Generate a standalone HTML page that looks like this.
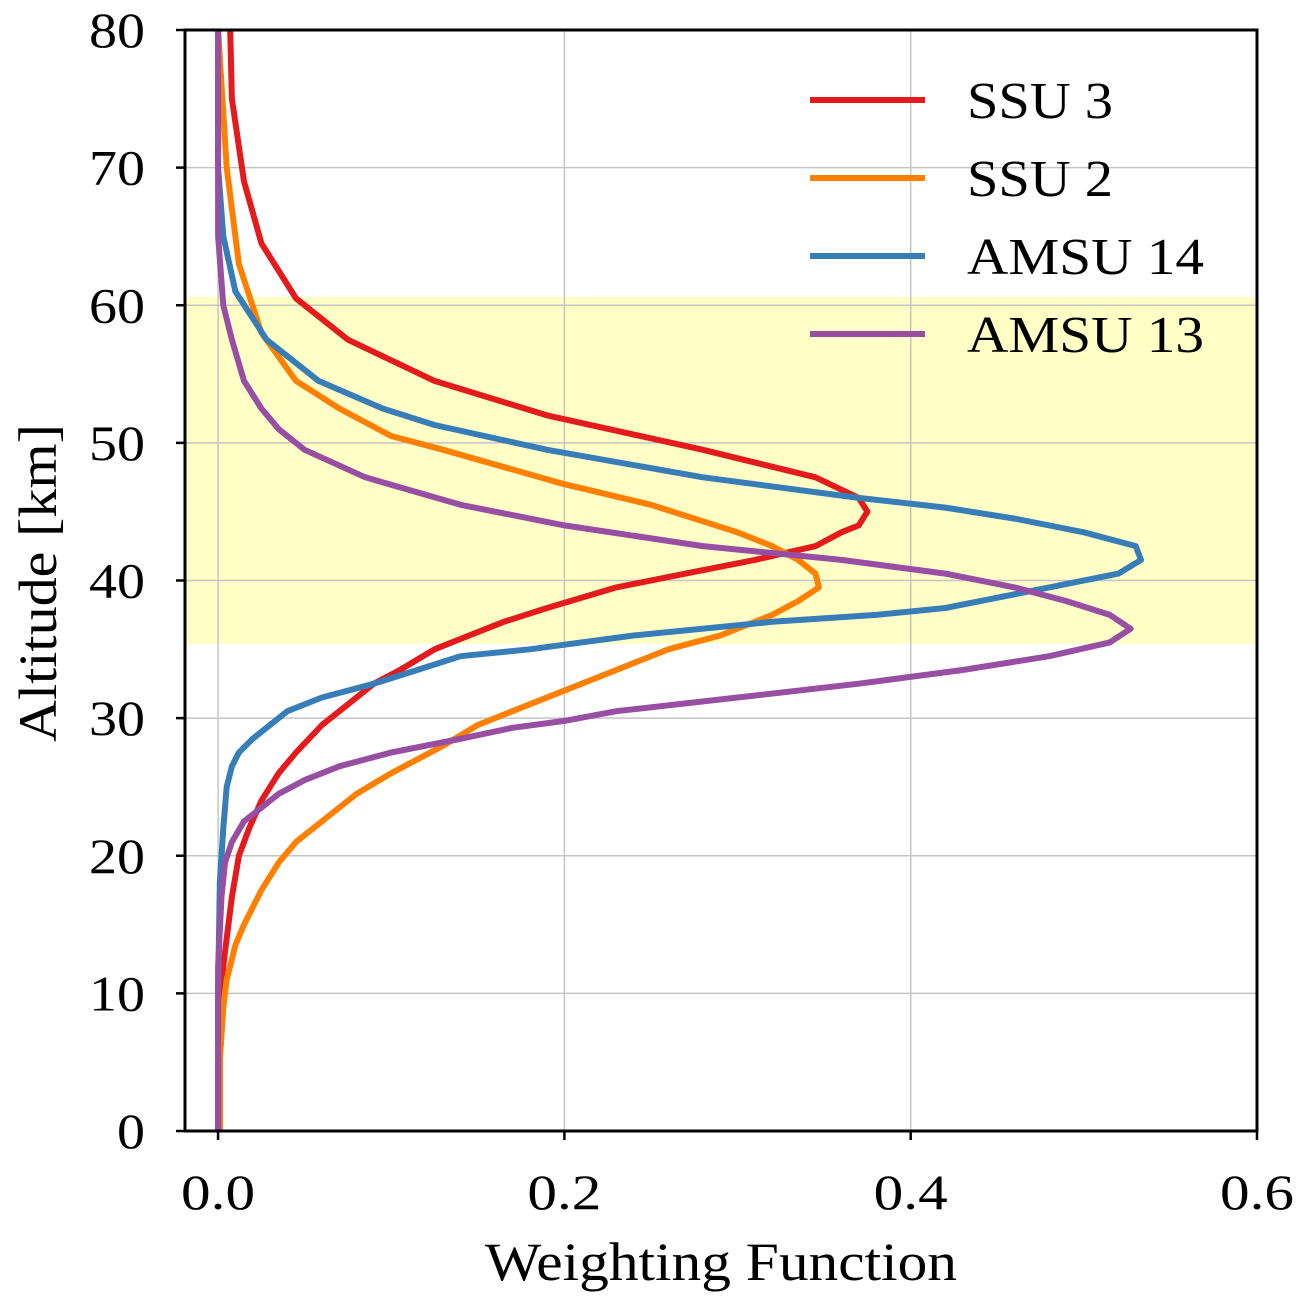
<!DOCTYPE html>
<html><head><meta charset="utf-8"><style>
body{margin:0;background:#fff}
svg text{font-family:"Liberation Serif","DejaVu Serif",serif;fill:#000}
</style></head><body>
<svg id="chart" width="1299" height="1302" viewBox="0 0 1299 1302" xmlns="http://www.w3.org/2000/svg">
<g id="bg"></g><g id="grid"></g><g id="series"></g><g id="axes"></g><g id="legend"></g>
</svg>
<script>
const xTicks=[0.0,0.2,0.4,0.6];
const xTickLabels=["0.0","0.2","0.4","0.6"];
const yTicks=[0,10,20,30,40,50,60,70,80];
const bandRange=[35.4,60.6];
const seriesNames=["SSU 3","SSU 2","AMSU 14","AMSU 13"];
const seriesColors=["#e41a1c","#ff7f00","#377eb8","#984ea3"];
const ssu3X=[0.007,0.008,0.015,0.025,0.045,0.075,0.125,0.19,0.28,0.345,0.37,0.375,0.37,0.36,0.345,0.31,0.27,0.23,0.19,0.165,0.145,0.125,0.105,0.09,0.075,0.06,0.045,0.035,0.025,0.018,0.012,0.008,0.005,0.003,0.001,0.001];
const ssu3Alt=[80,75,69,64.5,60.5,57.5,54.5,52,49.5,47.5,46,45,44,43.5,42.5,41.5,40.5,39.5,38,37,36,35,33.5,32.5,31,29.5,27.5,26,24,22,20,17,14,12,8,0];
const ssu2X=[0.0,0.005,0.012,0.025,0.045,0.07,0.1,0.13,0.2,0.25,0.3,0.32,0.335,0.345,0.347,0.335,0.32,0.29,0.26,0.23,0.2,0.17,0.15,0.13,0.1,0.08,0.06,0.045,0.035,0.025,0.015,0.01,0.005,0.003,0.001,0.001];
const ssu2Alt=[80,70,63,58,54.5,52.5,50.5,49.5,47,45.5,43.5,42.5,41.5,40.5,39.5,38.5,37.5,36,35,33.5,32,30.5,29.5,28,26,24.5,22.5,21,19.5,17.5,15,13.5,11,9,5,0];
const amsu14X=[0,0,0.003,0.01,0.028,0.058,0.095,0.125,0.19,0.28,0.37,0.42,0.46,0.5,0.53,0.533,0.52,0.48,0.42,0.38,0.32,0.24,0.18,0.14,0.115,0.09,0.06,0.04,0.03,0.02,0.012,0.008,0.005,0.003,0.001,0,0];
const amsu14Alt=[80,70,65,61,57.5,54.5,52.5,51.3,49.5,47.5,46,45.3,44.5,43.5,42.5,41.5,40.5,39.5,38,37.5,37,36,35,34.5,33.5,32.5,31.5,30.5,29.5,28.5,27.5,26.5,25,22,18,10,0];
const amsu13X=[0,0,0.003,0.008,0.015,0.025,0.035,0.05,0.085,0.14,0.2,0.28,0.36,0.42,0.46,0.49,0.515,0.527,0.515,0.48,0.43,0.37,0.3,0.23,0.2,0.17,0.14,0.1,0.07,0.05,0.035,0.025,0.015,0.008,0.004,0.002,0,0];
const amsu13Alt=[80,65,60,57.5,54.5,52.5,51,49.5,47.5,45.5,44,42.5,41.5,40.5,39.5,38.5,37.5,36.5,35.5,34.5,33.5,32.5,31.5,30.5,29.8,29.3,28.5,27.5,26.5,25.5,24.5,23.5,22.5,21,19.5,17,12,0];
const allX=[ssu3X,ssu2X,amsu14X,amsu13X];
const allAlt=[ssu3Alt,ssu2Alt,amsu14Alt,amsu13Alt];

const L=185,R=1257,T=30,B=1131,X0=-0.0191,X1=0.6;
const sx=v=>L+(v-X0)/(X1-X0)*(R-L);
const sy=v=>B-(v/80)*(B-T);
const NS="http://www.w3.org/2000/svg";
function mk(tag,attrs,parent,txt){const e=document.createElementNS(NS,tag);for(const k in attrs)e.setAttribute(k,attrs[k]);if(txt!==undefined)e.textContent=txt;document.getElementById(parent).appendChild(e);return e;}

let e=mk('rect',{x:L,y:sy(bandRange[1]),width:R-L,height:sy(bandRange[0])-sy(bandRange[1]),fill:'#ffffc6'},'bg');



xTicks.forEach((t,i)=>{
 let g=mk('line',{x1:sx(t),x2:sx(t),y1:T,y2:B,stroke:'#c4c4c4','stroke-width':1.5},'grid');
 
 
 let tk=mk('line',{x1:sx(t),x2:sx(t),y1:B,y2:B+9,stroke:'#000','stroke-width':2.5},'axes');
 
 
 let tl=mk('text',{x:sx(t),y:1209,'text-anchor':'middle','font-size':50,textLength:74,lengthAdjust:'spacingAndGlyphs'},'axes',xTickLabels[i]);
 
 
});
yTicks.forEach(t=>{
 let g=mk('line',{x1:L,x2:R,y1:sy(t),y2:sy(t),stroke:'#c4c4c4','stroke-width':1.5},'grid');
 
 
 let tk=mk('line',{x1:L-9,x2:L,y1:sy(t),y2:sy(t),stroke:'#000','stroke-width':2.5},'axes');
 
 
 const s=String(t);
 let tl=mk('text',{x:145,y:sy(t)+17,'text-anchor':'end','font-size':50,textLength:s.length*28,lengthAdjust:'spacingAndGlyphs'},'axes',s);
 
 
});

allX.forEach((xs,i)=>{
 const d=xs.map((v,j)=>(j?'L':'M')+sx(v).toFixed(1)+','+sy(allAlt[i][j]).toFixed(1)).join(' ');
 let p=mk('path',{d:d,fill:'none',stroke:seriesColors[i],'stroke-width':6,'stroke-linejoin':'round'},'series');
 
 
});

let fr=mk('rect',{x:L,y:T,width:R-L,height:B-T,fill:'none',stroke:'#000','stroke-width':3},'axes');


let xl=mk('text',{x:721,y:1280,'text-anchor':'middle','font-size':54,textLength:472,lengthAdjust:'spacingAndGlyphs'},'axes','Weighting Function');


let yl=mk('text',{x:0,y:0,'text-anchor':'middle','font-size':54,textLength:318,lengthAdjust:'spacingAndGlyphs',transform:'translate(56,583) rotate(-90)'},'axes','Altitude [km]');



const legendW=[146,146,237,237];
seriesNames.forEach((n,i)=>{
 const y=100+i*78;
 let ln=mk('line',{x1:810,x2:925,y1:y,y2:y,stroke:seriesColors[i],'stroke-width':6},'legend');
 
 
 let t=mk('text',{x:967,y:y+18,'font-size':52,textLength:legendW[i],lengthAdjust:'spacingAndGlyphs'},'legend',n);
 
 
});
</script>
</body></html>
